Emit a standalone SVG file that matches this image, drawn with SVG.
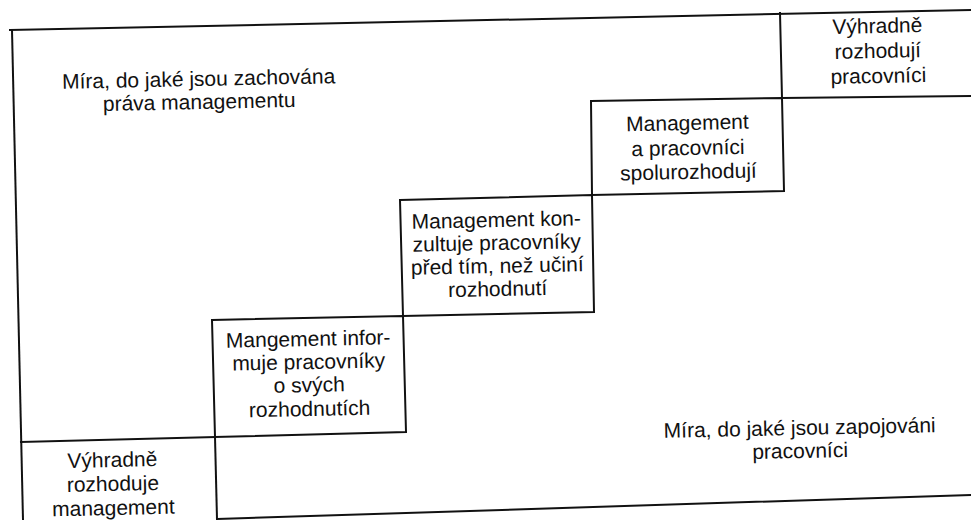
<svg xmlns="http://www.w3.org/2000/svg" width="971" height="520" viewBox="0 0 971 520">
<style>
.ln{stroke:#111;stroke-width:2;fill:none;stroke-linecap:square}
.bx{stroke:#111;stroke-width:2;fill:none;stroke-linejoin:miter}
.t{font-family:"Liberation Sans",Arial,Helvetica,sans-serif;font-size:21px;fill:#111;text-anchor:middle}
</style>
<rect width="971" height="520" fill="#fff"/>
<g id="frame">
<line class="ln" x1="10" y1="30" x2="971" y2="10"/>
<line class="ln" x1="12" y1="30" x2="23" y2="520"/>
<line class="ln" x1="217" y1="519" x2="971" y2="495"/>
<line class="ln" x1="21" y1="442" x2="215" y2="437"/>
<line class="ln" x1="215" y1="437" x2="217" y2="519"/>
<line class="ln" x1="780" y1="13" x2="782" y2="98"/>
<line class="ln" x1="782" y1="98" x2="971" y2="96"/>
</g>
<g id="label-top" transform="rotate(-1.2 199 95)">
<text class="t" x="199" y="86">Míra, do jaké jsou zachována</text>
<text class="t" x="199" y="109">práva managementu</text>
</g>
<g id="label-bottom" transform="rotate(-1.2 800 445)">
<text class="t" x="800" y="435">Míra, do jaké jsou zapojováni</text>
<text class="t" x="800" y="458">pracovníci</text>
</g>
<g id="n-excl-mgmt" transform="rotate(-1.2 113 490)">
<text class="t" x="113" y="467">Výhradně</text>
<text class="t" x="113" y="491">rozhoduje</text>
<text class="t" x="113" y="515">management</text>
</g>
<g id="n-inform">
<polygon class="bx" points="212,320 403,316 406,432 215,437"/>
<g transform="rotate(-1.2 309 378)">
<text class="t" x="309" y="346">Mangement infor-</text>
<text class="t" x="309" y="369">muje pracovníky</text>
<text class="t" x="309" y="392">o svých</text>
<text class="t" x="309" y="416">rozhodnutích</text>
</g>
</g>
<g id="n-consult">
<polygon class="bx" points="400,200 592,195 594,312 403,316"/>
<g transform="rotate(-1.2 497 256)">
<text class="t" x="497" y="227">Management kon-</text>
<text class="t" x="497" y="250">zultuje pracovníky</text>
<text class="t" x="497" y="273">před tím, než učiní</text>
<text class="t" x="497" y="296">rozhodnutí</text>
</g>
</g>
<g id="n-codecide">
<polygon class="bx" points="591,101 782,98 784,191 592,195"/>
<g transform="rotate(-1.2 688 150)">
<text class="t" x="688" y="130">Management</text>
<text class="t" x="688" y="155">a pracovníci</text>
<text class="t" x="688" y="179">spolurozhodují</text>
</g>
</g>
<g id="n-excl-workers" transform="rotate(-1.2 878 58)">
<text class="t" x="878" y="33">Výhradně</text>
<text class="t" x="878" y="58">rozhodují</text>
<text class="t" x="878" y="83">pracovníci</text>
</g>
</svg>
